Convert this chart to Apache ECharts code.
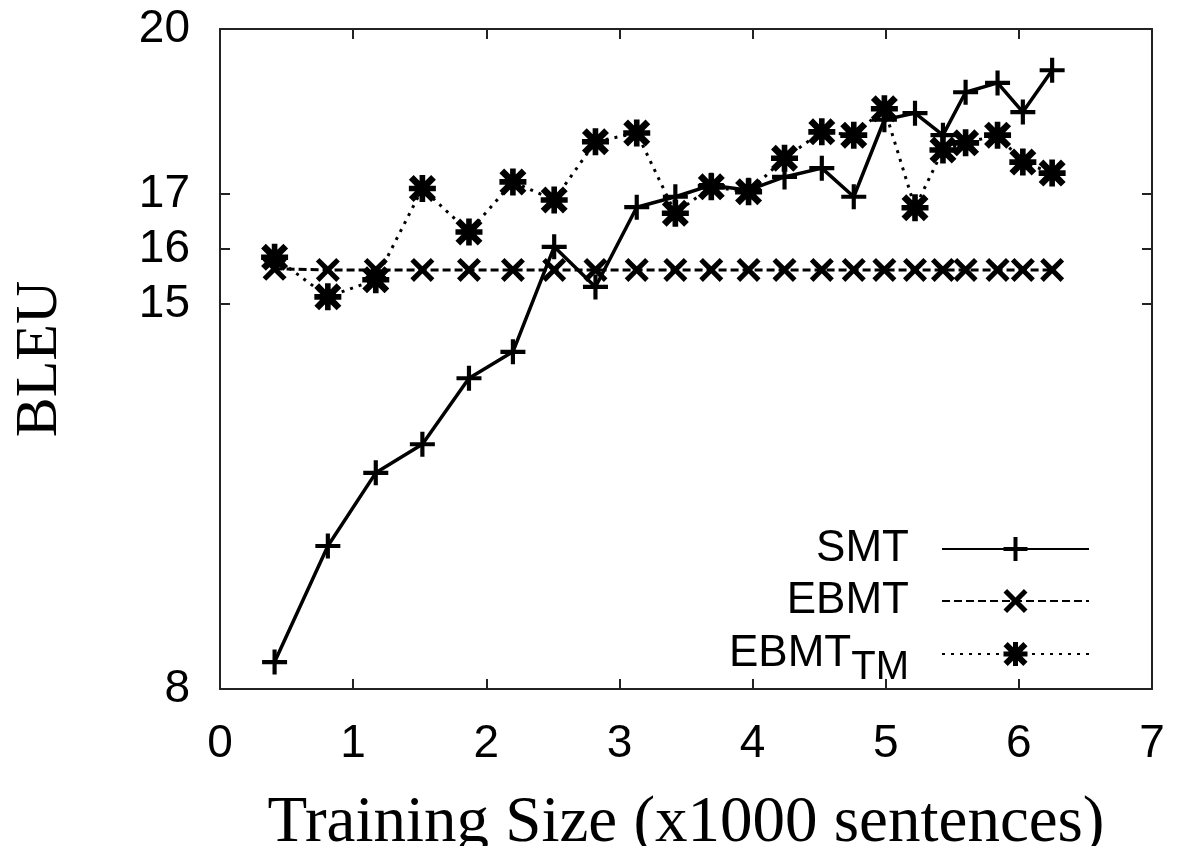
<!DOCTYPE html>
<html>
<head>
<meta charset="utf-8">
<script src="https://cdn.jsdelivr.net/npm/echarts@6/dist/echarts.min.js"></script>
<style>
html,body{margin:0;padding:0;background:#fff;}
#chart{width:1177px;height:846px;}
</style>
</head>
<body>
<div id="chart"></div>
<script>
// ---- data ----
var trainingSize = [0.41, 0.81, 1.17, 1.52, 1.87, 2.2, 2.51, 2.82, 3.13, 3.42, 3.69, 3.97, 4.24, 4.52, 4.76, 4.99, 5.22, 5.43, 5.6, 5.84, 6.03, 6.25];
var smtBleu = [8.49, 10.6, 11.93, 12.45, 13.65, 14.13, 16.04, 15.31, 16.76, 16.95, 17.16, 17.07, 17.31, 17.47, 16.95, 18.35, 18.47, 18.07, 18.85, 19.02, 18.49, 19.25];
var ebmtBleu = [15.64, 15.62, 15.62, 15.62, 15.62, 15.62, 15.62, 15.62, 15.62, 15.62, 15.62, 15.62, 15.62, 15.62, 15.62, 15.62, 15.62, 15.62, 15.62, 15.62, 15.62, 15.62];
var ebmtTmBleu = [15.85, 15.13, 15.44, 17.1, 16.31, 17.22, 16.89, 17.95, 18.11, 16.65, 17.13, 17.04, 17.65, 18.13, 18.07, 18.55, 16.75, 17.8, 17.93, 18.07, 17.58, 17.38];
var yTickValues = [8, 15, 16, 17, 20];
var xTickValues = [0, 1, 2, 3, 4, 5, 6, 7];
var seriesNames = ['SMT', 'EBMT', 'EBMT_TM'];

function pairs(xs, ys) { return xs.map(function (x, i) { return [x, ys[i]]; }); }

var PLUS = 'path://M10,0H14V10H24V14H14V24H10V14H0V10H10Z';
var CROSS = 'path://M0,3.6L3.6,0L12,8.4L20.4,0L24,3.6L15.6,12L24,20.4L20.4,24L12,15.6L3.6,24L0,20.4L8.4,12Z';
var STAR = 'path://M9.5,0H14.5V9.5H24V14.5H14.5V24H9.5V14.5H0V9.5H9.5Z M0,4.2L4.2,0L12,7.8L19.8,0L24,4.2L16.2,12L24,19.8L19.8,24L12,16.2L4.2,24L0,19.8L7.8,12Z';

var frameColor = '#222';
var sans = 'Liberation Sans, Arial, Helvetica, sans-serif';
var serif = 'Liberation Serif, Times New Roman, serif';

function xAxisDef(pos, labels) {
  var a = {
    type: 'value', min: 0, max: 7, interval: 1, position: pos,
    axisLine: { show: true, onZero: false, lineStyle: { color: frameColor, width: 2 } },
    axisTick: { show: true, inside: true, length: 10, lineStyle: { color: frameColor, width: 2 } },
    axisLabel: { show: labels, fontSize: 46, fontFamily: sans, color: '#000', margin: 32 },
    splitLine: { show: false }
  };
  if (labels) {
    a.name = 'Training Size (x1000 sentences)';
    a.nameLocation = 'middle';
    a.nameGap = 102;
    a.nameTextStyle = { fontFamily: serif, fontSize: 65, color: '#000' };
  }
  return a;
}
function yAxisDef(pos, labels) {
  var a = {
    type: 'value', min: 8, max: 20, interval: 1, position: pos,
    axisLine: { show: true, onZero: false, lineStyle: { color: frameColor, width: 2 } },
    axisTick: { show: true, inside: true, length: 10, customValues: yTickValues, lineStyle: { color: frameColor, width: 2 } },
    axisLabel: { show: labels, customValues: yTickValues, fontSize: 46, fontFamily: sans, color: '#000', margin: 30 },
    splitLine: { show: false }
  };
  if (labels) {
    a.name = 'BLEU';
    a.nameLocation = 'middle';
    a.nameGap = 150;
    a.nameRotate = 90;
    a.nameTextStyle = { fontFamily: serif, fontSize: 60, color: '#000' };
  }
  return a;
}

function legendDef(name, top) {
  return {
    data: [name], right: 82, top: top, orient: 'horizontal', align: 'right',
    itemWidth: 147, itemHeight: 30, selectedMode: false,
    formatter: function (n) { return n === 'EBMT_TM' ? 'EBMT{sub|TM}' : n; },
    textStyle: {
      fontFamily: sans, fontSize: 44, color: '#000', padding: [0, 28, 0, 0],
      rich: { sub: { fontFamily: 'Liberation Sans Narrow, ' + sans, fontSize: 40, color: '#000', padding: [28, 0, 0, 0] } }
    }
  };
}

var chart = echarts.init(document.getElementById('chart'), null, { renderer: 'canvas' });
chart.setOption({
  backgroundColor: '#fff',
  animation: false,
  grid: { left: 220, right: 25, top: 29, bottom: 157, containLabel: false, outerBoundsMode: 'none' },
  xAxis: [xAxisDef('bottom', true), xAxisDef('top', false)],
  yAxis: [yAxisDef('left', true), yAxisDef('right', false)],
  legend: [legendDef(seriesNames[0], 522), legendDef(seriesNames[1], 574), legendDef(seriesNames[2], 627)],
  series: [
    {
      name: seriesNames[2], type: 'line', data: pairs(trainingSize, ebmtTmBleu),
      symbol: STAR, symbolSize: 27, symbolKeepAspect: true,
      lineStyle: { color: '#000', width: 3, type: [3, 6] },
      itemStyle: { color: '#000' }, z: 3
    },
    {
      name: seriesNames[1], type: 'line', data: pairs(trainingSize, ebmtBleu),
      symbol: CROSS, symbolSize: 24, symbolKeepAspect: true,
      lineStyle: { color: '#000', width: 3, type: [8, 4] },
      itemStyle: { color: '#000' }, z: 4
    },
    {
      name: seriesNames[0], type: 'line', data: pairs(trainingSize, smtBleu),
      symbol: PLUS, symbolSize: 25, symbolKeepAspect: true,
      lineStyle: { color: '#000', width: 3.5, type: 'solid' },
      itemStyle: { color: '#000' }, z: 5
    }
  ]
});
</script>
</body>
</html>
